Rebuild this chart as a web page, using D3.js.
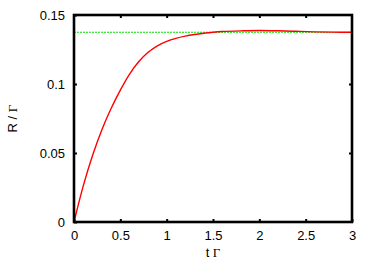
<!DOCTYPE html>
<html>
<head>
<meta charset="utf-8">
<script src="https://cdn.jsdelivr.net/npm/d3@7"></script>
<style>
  body { margin: 0; background: #fff; }
  svg { display: block; }
</style>
</head>
<body>
<div id="chart"></div>
<script>
// curve (t Γ vs R / Γ)
const tValues = [0, 0.1, 0.2, 0.3, 0.4, 0.5, 0.6, 0.7, 0.8, 0.9, 1.0, 1.1, 1.2, 1.3, 1.4, 1.5, 1.6, 1.8, 2.0, 2.2, 2.4, 2.6, 2.8, 3.0];
const rValues = [0, 0.0262, 0.0482, 0.0667, 0.0822, 0.0956, 0.1072, 0.1163, 0.1230, 0.1277, 0.1309, 0.1331, 0.1347, 0.1359, 0.1368, 0.1375, 0.1380, 0.1385, 0.1388, 0.1386, 0.1382, 0.1378, 0.1376, 0.1375];
const steadyState = 0.1375;

const xTicks = [0, 0.5, 1, 1.5, 2, 2.5, 3];
const yTicks = [0, 0.05, 0.1, 0.15];

const width = 374, height = 262;
const margin = {top: 15, right: 22, bottom: 40, left: 74};

const x = d3.scaleLinear().domain([0, 3]).range([margin.left, width - margin.right]);
const y = d3.scaleLinear().domain([0, 0.15]).range([height - margin.bottom, margin.top]);

const svg = d3.select("#chart").append("svg")
    .attr("width", width)
    .attr("height", height)
    .attr("font-family", "Liberation Sans, Arial, sans-serif");

// steady-state line
svg.append("line")
    .attr("x1", x(0)).attr("x2", x(3))
    .attr("y1", y(steadyState)).attr("y2", y(steadyState))
    .attr("stroke", "#00e000")
    .attr("stroke-width", 1.2)
    .attr("stroke-dasharray", "2,1");

const line = d3.line()
    .x((d, i) => x(tValues[i]))
    .y(d => y(d))
    .curve(d3.curveCatmullRom.alpha(0.5));

svg.append("path")
    .datum(rValues)
    .attr("fill", "none")
    .attr("stroke", "#ff0000")
    .attr("stroke-width", 1.4)
    .attr("d", line);

// axes with inward ticks, mirrored
const tickLen = 3;
svg.append("g")
    .attr("transform", `translate(0,${y(0)})`)
    .call(d3.axisBottom(x).tickValues(xTicks).tickSizeInner(-tickLen).tickSizeOuter(0).tickPadding(9)
        .tickFormat(d3.format("")))
    .call(g => g.select(".domain").remove());
svg.append("g")
    .attr("transform", `translate(0,${y(0.15)})`)
    .call(d3.axisTop(x).tickValues(xTicks.slice(1, -1)).tickSizeInner(-tickLen).tickSizeOuter(0).tickFormat(""))
    .call(g => g.select(".domain").remove());
svg.append("g")
    .attr("transform", `translate(${x(0)},0)`)
    .call(d3.axisLeft(y).tickValues(yTicks).tickSizeInner(-tickLen).tickSizeOuter(0).tickPadding(9)
        .tickFormat(d3.format("")))
    .call(g => g.select(".domain").remove());
svg.append("g")
    .attr("transform", `translate(${x(3)},0)`)
    .call(d3.axisRight(y).tickValues(yTicks.slice(1, -1)).tickSizeInner(-tickLen).tickSizeOuter(0).tickFormat(""))
    .call(g => g.select(".domain").remove());

svg.selectAll(".tick line").attr("stroke", "#000").attr("stroke-width", 2);
svg.selectAll(".tick text")
    .attr("font-size", 13)
    .attr("font-family", "Liberation Sans, Arial, sans-serif")
    .attr("fill", "#000");

// frame
svg.append("rect")
    .attr("x", x(0)).attr("y", y(0.15))
    .attr("width", x(3) - x(0)).attr("height", y(0) - y(0.15))
    .attr("fill", "none")
    .attr("stroke", "#000")
    .attr("stroke-width", 2.6);

// axis titles
const xt = svg.append("text")
    .attr("x", (x(0) + x(3)) / 2)
    .attr("y", 257)
    .attr("text-anchor", "middle")
    .attr("font-size", 13);
xt.append("tspan").text("t ");
xt.append("tspan").attr("font-family", "Liberation Serif, Times New Roman, serif").text("Γ");

const yt = svg.append("text")
    .attr("transform", `translate(17,${(y(0) + y(0.15)) / 2}) rotate(-90)`)
    .attr("text-anchor", "middle")
    .attr("font-size", 13);
yt.append("tspan").text("R / ");
yt.append("tspan").attr("font-family", "Liberation Serif, Times New Roman, serif").text("Γ");
</script>
</body>
</html>
